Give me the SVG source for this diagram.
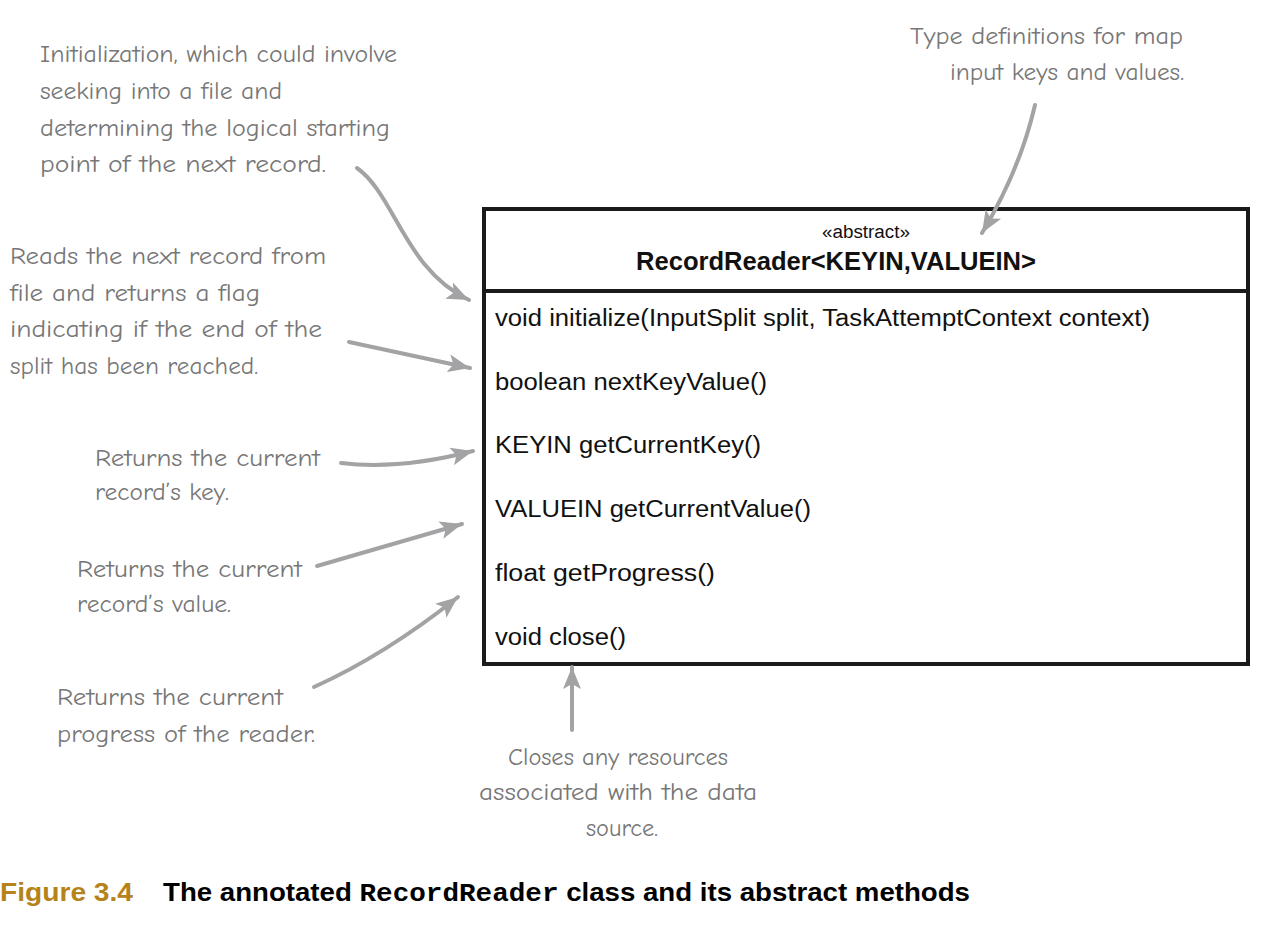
<svg xmlns="http://www.w3.org/2000/svg" width="1272" height="932" viewBox="0 0 1272 932">
<style>
.note{font-family:"Comic Neue","Liberation Sans Narrow","Liberation Sans",sans-serif;font-size:24px;fill:#777;}
.m{font-family:"Liberation Sans",Arial,sans-serif;font-size:23px;fill:#111;}
.conn{fill:none;stroke:#a3a3a5;stroke-width:4;stroke-linecap:round;}
</style>
<defs>
<marker id="ah" markerUnits="userSpaceOnUse" markerWidth="26" markerHeight="20" refX="22" refY="10" orient="auto">
<path d="M0,1 L22,10 L0,19 L5,10 Z" fill="#a3a3a5"/>
</marker>
</defs>
<rect width="1272" height="932" fill="#fff"/>
<g id="class">
<rect x="484" y="209" width="764" height="455" fill="#fff" stroke="#1a1a1a" stroke-width="4"/>
<line x1="484" y1="291" x2="1248" y2="291" stroke="#1a1a1a" stroke-width="4"/>
<text x="866" y="238" text-anchor="middle" font-family="Liberation Sans,Arial,sans-serif" font-size="18" fill="#111" textLength="88" lengthAdjust="spacingAndGlyphs">«abstract»</text>
<text x="836" y="270" text-anchor="middle" font-family="Liberation Sans,Arial,sans-serif" font-size="25" font-weight="bold" fill="#111" textLength="400" lengthAdjust="spacingAndGlyphs">RecordReader&lt;KEYIN,VALUEIN&gt;</text>
<text class="m" x="495" y="326" textLength="655" lengthAdjust="spacingAndGlyphs">void initialize(InputSplit split, TaskAttemptContext context)</text>
<text class="m" x="495" y="390" textLength="272" lengthAdjust="spacingAndGlyphs">boolean nextKeyValue()</text>
<text class="m" x="495" y="453" textLength="266" lengthAdjust="spacingAndGlyphs">KEYIN getCurrentKey()</text>
<text class="m" x="495" y="517" textLength="316" lengthAdjust="spacingAndGlyphs">VALUEIN getCurrentValue()</text>
<text class="m" x="495" y="581" textLength="220" lengthAdjust="spacingAndGlyphs">float getProgress()</text>
<text class="m" x="495" y="645" textLength="131" lengthAdjust="spacingAndGlyphs">void close()</text>
</g>
<g id="note-init">
<text class="note" x="40" y="62" textLength="357" lengthAdjust="spacingAndGlyphs">Initialization, which could involve</text>
<text class="note" x="40" y="99" textLength="242" lengthAdjust="spacingAndGlyphs">seeking into a file and</text>
<text class="note" x="40" y="136" textLength="350" lengthAdjust="spacingAndGlyphs">determining the logical starting</text>
<text class="note" x="40" y="172" textLength="286" lengthAdjust="spacingAndGlyphs">point of the next record.</text>
</g>
<g id="note-next">
<text class="note" x="10" y="264" textLength="316" lengthAdjust="spacingAndGlyphs">Reads the next record from</text>
<text class="note" x="10" y="301" textLength="250" lengthAdjust="spacingAndGlyphs">file and returns a flag</text>
<text class="note" x="10" y="337" textLength="312" lengthAdjust="spacingAndGlyphs">indicating if the end of the</text>
<text class="note" x="10" y="374" textLength="248" lengthAdjust="spacingAndGlyphs">split has been reached.</text>
</g>
<g id="note-key">
<text class="note" x="95" y="466" textLength="225" lengthAdjust="spacingAndGlyphs">Returns the current</text>
<text class="note" x="95" y="500" textLength="134" lengthAdjust="spacingAndGlyphs">record’s key.</text>
</g>
<g id="note-value">
<text class="note" x="77" y="577" textLength="225" lengthAdjust="spacingAndGlyphs">Returns the current</text>
<text class="note" x="77" y="612" textLength="154" lengthAdjust="spacingAndGlyphs">record’s value.</text>
</g>
<g id="note-progress">
<text class="note" x="57" y="705" textLength="226" lengthAdjust="spacingAndGlyphs">Returns the current</text>
<text class="note" x="57" y="742" textLength="258" lengthAdjust="spacingAndGlyphs">progress of the reader.</text>
</g>
<g id="note-types">
<text class="note" x="910" y="44" textLength="273" lengthAdjust="spacingAndGlyphs">Type definitions for map</text>
<text class="note" x="950" y="80" textLength="234" lengthAdjust="spacingAndGlyphs">input keys and values.</text>
</g>
<g id="note-close">
<text class="note" x="618" y="765" text-anchor="middle" textLength="220" lengthAdjust="spacingAndGlyphs">Closes any resources</text>
<text class="note" x="618" y="800" text-anchor="middle" textLength="278" lengthAdjust="spacingAndGlyphs">associated with the data</text>
<text class="note" x="622" y="836" text-anchor="middle" textLength="72" lengthAdjust="spacingAndGlyphs">source.</text>
</g>
<g id="connectors">
<path class="conn" marker-end="url(#ah)" d="M357,168 C395,195 405,270 469,300"/>
<path class="conn" marker-end="url(#ah)" d="M349,342 L470,368"/>
<path class="conn" marker-end="url(#ah)" d="M341,463 Q400,470 473,451"/>
<path class="conn" marker-end="url(#ah)" d="M317,566 L462,524"/>
<path class="conn" marker-end="url(#ah)" d="M314,687 Q385,655 458,597"/>
<path class="conn" marker-end="url(#ah)" d="M1035,105 Q1020,170 982,233"/>
<path class="conn" marker-end="url(#ah)" d="M572,730 L572,667"/>
</g>
<g id="caption">
<text x="0" y="901" font-family="Liberation Sans,Arial,sans-serif" font-size="25" font-weight="bold" fill="#b5831a" textLength="133" lengthAdjust="spacingAndGlyphs">Figure 3.4</text>
<text x="163" y="901" font-family="Liberation Sans,Arial,sans-serif" font-size="25" font-weight="bold" fill="#000" textLength="807" lengthAdjust="spacingAndGlyphs">The annotated <tspan font-family="Liberation Mono,Courier New,monospace">RecordReader</tspan> class and its abstract methods</text>
</g>
</svg>
